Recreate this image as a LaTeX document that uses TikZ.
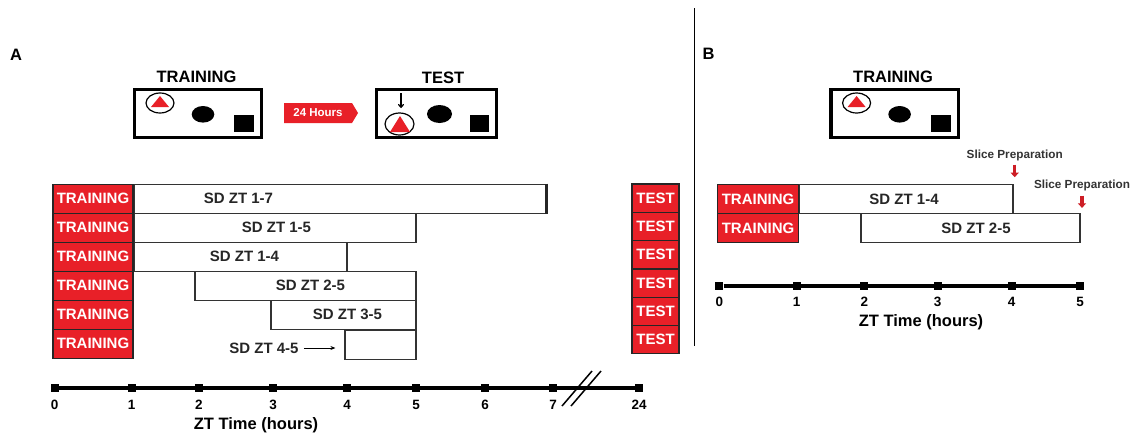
\documentclass[tikz,border=0pt]{standalone}
\usepackage{fontspec}
\setmainfont{Liberation Sans}
\usetikzlibrary{arrows.meta}
\definecolor{myred}{RGB}{232,32,40}
\definecolor{darkred}{RGB}{205,30,38}
\newcommand\myfs[1]{\fontsize{#1}{#1}\selectfont}
\begin{document}
\begin{tikzpicture}[x=1pt,y=-1pt,
 redbox/.style={draw=black!85, line width=1.2pt, fill=myred, text=white, inner sep=0pt, font=\bfseries\myfs{15}},
 bar/.style={draw=black!80, line width=1.2pt, fill=white, inner sep=0pt},
 lbl/.style={font=\bfseries\myfs{15}, text=black!85, inner sep=0pt},
 title/.style={font=\bfseries\myfs{16.5}, inner sep=0pt},
 panel/.style={font=\bfseries\myfs{16.5}, inner sep=0pt},
 cage/.style={draw=black, line width=3.2pt},
 thinline/.style={draw=black, line width=1.2pt},
 tickmark/.style={fill=black, minimum size=8pt, inner sep=0pt},
 num/.style={font=\bfseries\myfs{13.5}, inner sep=0pt},
 axis/.style={line width=3.5pt},
 slicearrow/.style={draw=darkred, line width=3.2pt, -{Triangle[width=8pt,length=4.5pt]}},
 slicelbl/.style={font=\bfseries\myfs{11.75}, text=black!80, inner sep=0pt}]
\useasboundingbox (0,0) rectangle (1139,437);

% panel letters
\node[panel] (pA) at (16,55) {A};
\node[panel] (pB) at (708.5,54) {B};
\draw[line width=1.8pt] (694.5,8) -- (694.5,346);

% ---------- cages panel A ----------
\node[title] (ttrain) at (196.5,76.5) {TRAINING};
\draw[cage] (134.4,89.7) rectangle (261.6,137.3);
\draw[thinline] (160,103) ellipse [x radius=14, y radius=10];
\fill[myred] (160,96) -- (169,107) -- (151,107) -- cycle;
\fill[black] (203,114.3) ellipse [x radius=11.3, y radius=8.3];
\fill[black] (234,115) rectangle (254,131.7);

\fill[myred] (284,103) -- (352,103) -- (358,113) -- (352,123) -- (284,123) -- cycle;
\node[font=\bfseries\myfs{11.5}, text=white, inner sep=0pt] (h24) at (318,113) {24 Hours};

\node[title] (ttest) at (443,77.5) {TEST};
\draw[cage] (376.6,89.7) rectangle (496.4,137.3);
\draw[thinline, -{To[length=4pt,width=6pt]}] (401,93) -- (401,108);
\draw[thinline] (399.5,124) ellipse [x radius=14.5, y radius=11];
\fill[myred] (400,116) -- (410,132) -- (390,132) -- cycle;
\fill[black] (439.5,114) ellipse [x radius=12.5, y radius=9];
\fill[black] (470,115) rectangle (489,132);

% ---------- bars panel A ----------
\node[bar, minimum width=412pt, minimum height=29pt] (b1) at (340,198.8) {};
\draw[line width=3pt, black!85] (b1.north east) -- (b1.south east);
\node[bar, minimum width=282pt, minimum height=29pt] (b2) at (275,227.8) {};
\node[bar, minimum width=213pt, minimum height=29pt] (b3) at (240.5,256.8) {};
\node[bar, minimum width=221pt, minimum height=29pt] (b4) at (305.5,285.8) {};
\node[bar, minimum width=145pt, minimum height=29pt] (b5) at (343.5,314.8) {};
\node[bar, minimum width=71pt, minimum height=28.6pt] (b6) at (380.5,345) {};

\foreach \i in {0,...,5} {
  \node[redbox, minimum width=80pt, minimum height=29pt] (tr\i) at (93,198.8+29*\i) {TRAINING};
  \node[redbox, minimum width=47pt, minimum height=28.3pt] (te\i) at (655.5,198.15+28.3*\i) {TEST};
}

\node[lbl] (l1) at (238.5,198.8) {SD ZT 1-7};
\node[lbl] (l2) at (276.5,227.8) {SD ZT 1-5};
\node[lbl] (l3) at (244.5,256.8) {SD ZT 1-4};
\node[lbl] (l4) at (310.5,285.8) {SD ZT 2-5};
\node[lbl] (l5) at (347.5,314.8) {SD ZT 3-5};
\node[lbl] (l6) at (264,348) {SD ZT 4-5};
\draw[line width=1pt, -{Stealth[length=5pt,width=4pt]}] ([xshift=5pt]l6.east) -- ([xshift=-9pt]b6.west |- l6.east);

% ---------- timeline A ----------
\foreach \n/\x in {0/54.6,1/131.7,2/199,3/273,4/347,5/416,6/485,7/553,24/639} {
  \node[tickmark] (ta\n) at (\x,388) {};
  \node[num] (na\n) at (\x,405) {\n};
}
\draw[axis] (ta0) -- (ta24);
\foreach \n in {0,1,2,3,4,5,6,7,24} { \node[tickmark] at (ta\n) {}; }
\draw[line width=1.5pt] (562,406) -- (592,371);
\draw[line width=1.5pt] (571,406) -- (601,371);
\node[font=\bfseries\myfs{16.5}, inner sep=0pt] (zta) at (256,425) {ZT Time (hours)};

% ---------- panel B ----------
\begin{scope}[shift={(696.6,0)}]
\node[title] (ttrainB) at (196.5,76.5) {TRAINING};
\draw[cage] (134.4,89.7) rectangle (261.6,137.3);
\draw[thinline] (160,103) ellipse [x radius=14, y radius=10];
\fill[myred] (160,96) -- (169,107) -- (151,107) -- cycle;
\fill[black] (203,114.3) ellipse [x radius=11.3, y radius=8.3];
\fill[black] (234,115) rectangle (254,131.7);
\end{scope}

\node[bar, minimum width=214pt, minimum height=28.7pt] (bb1) at (906,199.15) {};
\node[bar, minimum width=219pt, minimum height=28.7pt] (bb2) at (970.5,227.85) {};
\node[redbox, minimum width=81.7pt, minimum height=28.7pt] (trB0) at (758,199.15) {TRAINING};
\node[redbox, minimum width=81.7pt, minimum height=28.7pt] (trB1) at (758,227.85) {TRAINING};
\node[lbl] (lb1) at (904,199.15) {SD ZT 1-4};
\node[lbl] (lb2) at (976,228.5) {SD ZT 2-5};

\node[slicelbl] (sp1) at (1014.7,155) {Slice Preparation};
\node[slicelbl] (sp2) at (1082,185) {Slice Preparation};
\draw[slicearrow] ([yshift=-4pt]sp1.south) -- ([yshift=7pt]sp1.south |- bb1.north);
\draw[slicearrow] ([yshift=-5pt]sp2.south) -- ([yshift=5pt]sp2.south |- bb2.north);

\foreach \n/\x in {0/719.3,1/796.7,2/864.3,3/937.7,4/1011.7,5/1080} {
  \node[tickmark] (tb\n) at (\x,286) {};
  \node[num] (nb\n) at (\x,302) {\n};
}
\draw[axis] (tb0) -- (tb5);
\foreach \n in {0,...,5} { \node[tickmark] at (tb\n) {}; }
\node[font=\bfseries\myfs{16.5}, inner sep=0pt] (ztb) at (921,322.7) {ZT Time (hours)};
\end{tikzpicture}
\end{document}
